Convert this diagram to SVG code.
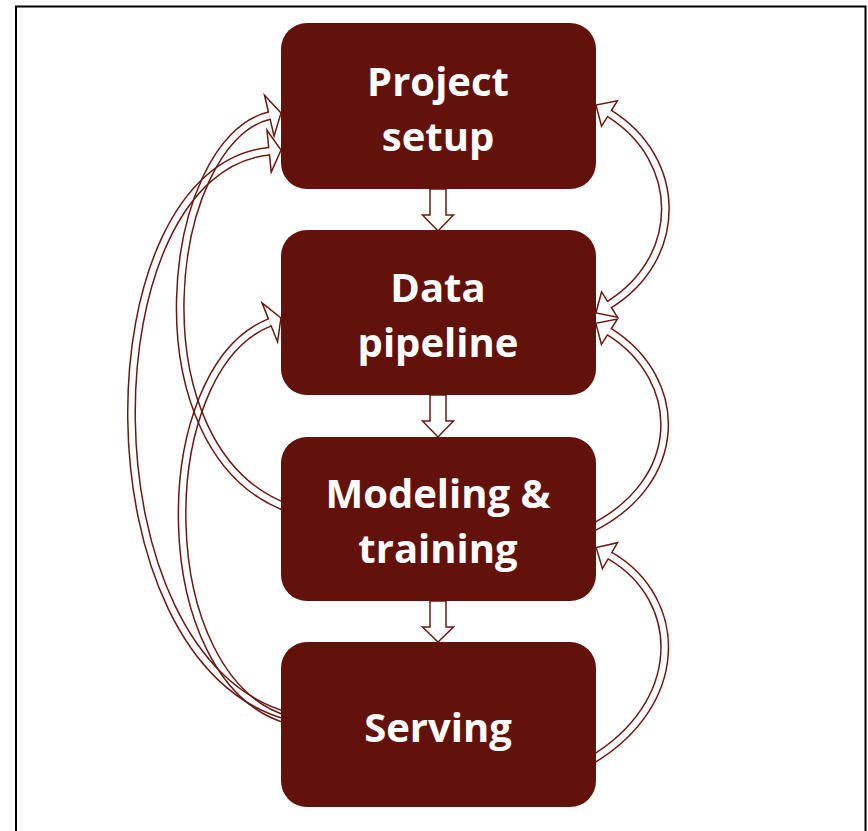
<svg xmlns="http://www.w3.org/2000/svg" width="868" height="831" viewBox="0 0 868 831">
<style>
.box{fill:#63110b}
.lbl{font-family:"Open Sans","Liberation Sans",sans-serif;font-weight:700;font-size:40px;fill:#ffffff;text-anchor:middle}
.edge{fill:none;stroke:#6a1812;stroke-width:9}
.hole{fill:none;stroke:#000;stroke-width:6}
.head{fill:none;stroke:#6a1812;stroke-width:1.5;stroke-linejoin:miter}
.down{fill:#ffffff;stroke:#6a1812;stroke-width:1.5}
</style>
<defs>
<marker id="hl" markerUnits="userSpaceOnUse" orient="auto" overflow="visible" markerWidth="1" markerHeight="1" refX="0" refY="0">
<polyline class="head" points="-1,-3.75 0,-3.75 0,-21 12,0 0,21 0,3.75 -1,3.75"/>
</marker>
<marker id="hr" markerUnits="userSpaceOnUse" orient="auto-start-reverse" overflow="visible" markerWidth="1" markerHeight="1" refX="0" refY="0">
<polyline class="head" points="-1,-3.75 0,-3.75 0,-15 16,0 0,15 0,3.75 -1,3.75"/>
</marker>
<mask id="mA" maskUnits="userSpaceOnUse" x="0" y="0" width="868" height="831"><rect width="868" height="831" fill="#fff"/><path class="hole" d="M 609.5 304.5 C 684 258, 684 160, 609.5 113.5"/></mask>
<mask id="mB" maskUnits="userSpaceOnUse" x="0" y="0" width="868" height="831"><rect width="868" height="831" fill="#fff"/><path class="hole" d="M 590 529 C 686 482, 686 380, 609.4 331.75"/></mask>
<mask id="mC" maskUnits="userSpaceOnUse" x="0" y="0" width="868" height="831"><rect width="868" height="831" fill="#fff"/><path class="hole" d="M 590 761 C 686 705, 686 600, 610 555.7"/></mask>
<mask id="mD" maskUnits="userSpaceOnUse" x="0" y="0" width="868" height="831"><rect width="868" height="831" fill="#fff"/><path class="hole" d="M 288 508 C 130 450, 165 140, 269.3 115.7"/></mask>
<mask id="mE" maskUnits="userSpaceOnUse" x="0" y="0" width="868" height="831"><rect width="868" height="831" fill="#fff"/><path class="hole" d="M 288 716 C 80 660, 85 170, 269.1 151.2"/></mask>
<mask id="mF" maskUnits="userSpaceOnUse" x="0" y="0" width="868" height="831"><rect width="868" height="831" fill="#fff"/><path class="hole" d="M 288 720 C 150 680, 150 370, 269.8 322.4"/></mask>
</defs>
<rect x="0" y="0" width="868" height="831" fill="#ffffff"/>
<rect x="16" y="6.5" width="849.5" height="840" fill="none" stroke="#000" stroke-width="2"/>
<g id="connectors">
<path class="edge" mask="url(#mA)" marker-start="url(#hr)" marker-end="url(#hr)" d="M 609.5 304.5 C 684 258, 684 160, 609.5 113.5"/>
<path class="edge" mask="url(#mB)" marker-end="url(#hr)" d="M 590 529 C 686 482, 686 380, 609.4 331.75"/>
<path class="edge" mask="url(#mC)" marker-end="url(#hr)" d="M 590 761 C 686 705, 686 600, 610 555.7"/>
<path class="edge" mask="url(#mD)" marker-end="url(#hl)" d="M 288 508 C 130 450, 165 140, 269.3 115.7"/>
<path class="edge" mask="url(#mE)" marker-end="url(#hl)" d="M 288 716 C 80 660, 85 170, 269.1 151.2"/>
<path class="edge" mask="url(#mF)" marker-end="url(#hl)" d="M 288 720 C 150 680, 150 370, 269.8 322.4"/>
<polygon class="down" points="430,189 446,189 446,215 453.5,215 438,231 422.5,215 430,215"/>
<polygon class="down" points="430,395 446,395 446,421 453.5,421 438,437 422.5,421 430,421"/>
<polygon class="down" points="430,601 446,601 446,627 453.5,627 438,642 422.5,627 430,627"/>
</g>
<g id="node-project-setup">
<rect class="box" x="281" y="23" width="315" height="166" rx="26"/>
<text class="lbl" x="438" y="96">Project</text>
<text class="lbl" x="438" y="151">setup</text>
</g>
<g id="node-data-pipeline">
<rect class="box" x="281" y="230" width="315" height="165" rx="26"/>
<text class="lbl" x="438" y="302">Data</text>
<text class="lbl" x="438" y="357">pipeline</text>
</g>
<g id="node-modeling-training">
<rect class="box" x="281" y="437" width="315" height="164" rx="26"/>
<text class="lbl" x="438" y="508">Modeling &amp;</text>
<text class="lbl" x="438" y="563">training</text>
</g>
<g id="node-serving">
<rect class="box" x="281" y="642" width="315" height="165" rx="26"/>
<text class="lbl" x="438" y="742">Serving</text>
</g>
</svg>
